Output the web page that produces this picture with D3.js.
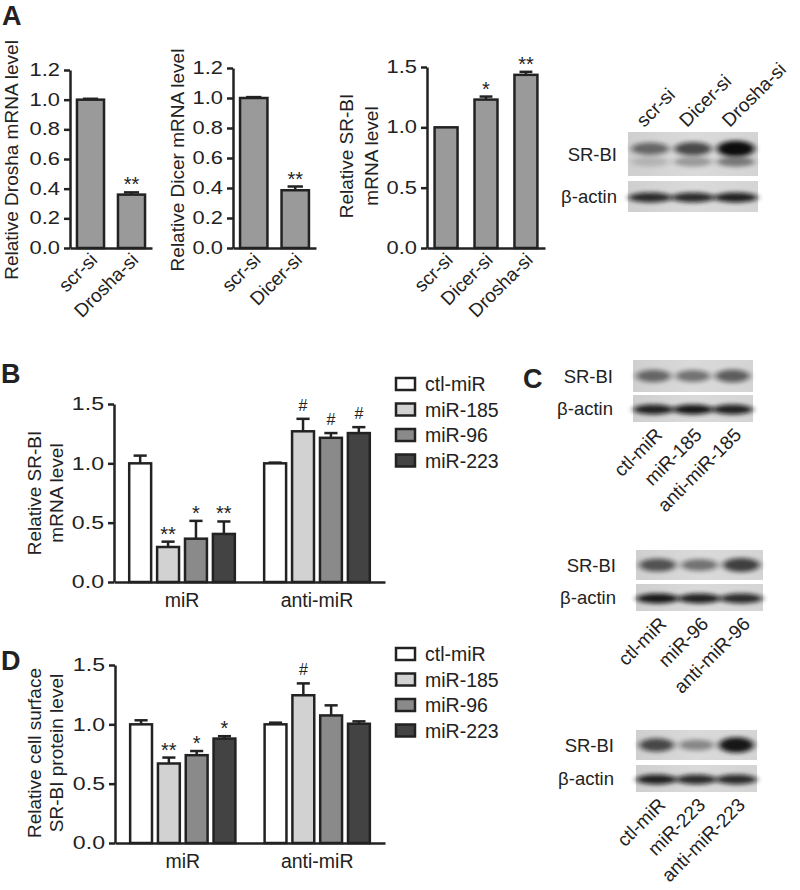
<!DOCTYPE html>
<html><head><meta charset="utf-8">
<script src="https://cdn.jsdelivr.net/npm/d3@7"></script>
<style>
body{margin:0;background:#fff;}
svg text{font-family:"Liberation Sans",Arial,sans-serif;fill:#222;}
</style></head><body>
<svg id="fig" width="800" height="890"></svg>
<script>
// ---------- DATA ----------
const a1Cats = ["scr-si", "Drosha-si"];
const a1Vals = [1.0, 0.36];
const a1Errs = [0.006, 0.015];
const a1Sig = ["", "**"];
const a1Ticks = [0, 0.2, 0.4, 0.6, 0.8, 1.0, 1.2];

const a2Cats = ["scr-si", "Dicer-si"];
const a2Vals = [1.0, 0.385];
const a2Errs = [0.006, 0.025];
const a2Sig = ["", "**"];
const a2Ticks = [0, 0.2, 0.4, 0.6, 0.8, 1.0, 1.2];

const a3Cats = ["scr-si", "Dicer-si", "Drosha-si"];
const a3Vals = [1.0, 1.23, 1.435];
const a3Errs = [0.0, 0.025, 0.025];
const a3Sig = ["", "*", "**"];
const a3Ticks = [0, 0.5, 1.0, 1.5];

const groups = ["miR", "anti-miR"];
const seriesNames = ["ctl-miR", "miR-185", "miR-96", "miR-223"];
const seriesColors = ["#ffffff", "#d2d2d2", "#8a8a8a", "#434343"];
const bdTicks = [0, 0.5, 1.0, 1.5];

const bMiR = [1.0, 0.295, 0.365, 0.405];
const bMiRErr = [0.065, 0.045, 0.15, 0.105];
const bMiRSig = ["", "**", "*", "**"];
const bAnti = [1.0, 1.27, 1.215, 1.255];
const bAntiErr = [0.006, 0.105, 0.04, 0.05];
const bAntiSig = ["", "#", "#", "#"];

const dMiR = [1.0, 0.67, 0.74, 0.88];
const dMiRErr = [0.034, 0.05, 0.035, 0.02];
const dMiRSig = ["", "**", "*", "*"];
const dAnti = [1.0, 1.245, 1.075, 1.005];
const dAntiErr = [0.014, 0.1, 0.085, 0.02];
const dAntiSig = ["", "#", "", ""];

// blot band intensities (0..1)
const blotALanes = ["scr-si", "Dicer-si", "Drosha-si"];
const blotASRBI = [0.55, 0.7, 1.0];
const blotASRBIlow = [0.25, 0.5, 0.75];
const blotAActin = [0.85, 0.85, 0.9];

const blotC1Lanes = ["ctl-miR", "miR-185", "anti-miR-185"];
const blotC1SRBI = [0.55, 0.5, 0.6];
const blotC1Actin = [0.9, 0.95, 0.9];
const blotC2Lanes = ["ctl-miR", "miR-96", "anti-miR-96"];
const blotC2SRBI = [0.65, 0.5, 0.75];
const blotC2Actin = [0.95, 0.9, 0.85];
const blotC3Lanes = ["ctl-miR", "miR-223", "anti-miR-223"];
const blotC3SRBI = [0.7, 0.4, 0.95];
const blotC3Actin = [0.9, 0.85, 0.85];

// ---------- DRAW ----------
const svg = d3.select("#fig");
const INK = "#222";
const defs = svg.append("defs");
defs.append("filter").attr("id", "blur").attr("x", "-50%").attr("y", "-100%").attr("width", "200%").attr("height", "300%")
  .append("feGaussianBlur").attr("stdDeviation", "3 2.2");
const grad = defs.append("linearGradient").attr("id", "film").attr("x1", 0).attr("x2", 1);
grad.append("stop").attr("offset", "0").attr("stop-color", "#cfcfcf");
grad.append("stop").attr("offset", "0.5").attr("stop-color", "#dadada");
grad.append("stop").attr("offset", "1").attr("stop-color", "#d4d4d4");

function panelLetter(t, x, y) {
  svg.append("text").attr("x", x).attr("y", y).text(t)
    .style("font-size", "27px").style("font-weight", "bold");
}

function styleAxis(g, fs, sx) {
  g.select(".domain").attr("stroke", INK).attr("stroke-width", 2.5);
  g.selectAll(".tick line").attr("stroke", INK).attr("stroke-width", 2.5);
  g.selectAll(".tick text").style("font-size", fs + "px").attr("fill", INK)
    .style("font-family", '"Liberation Sans",Arial,sans-serif')
    .each(function () {
      const t = d3.select(this), x = +t.attr("x");
      t.attr("x", 0).attr("transform", `translate(${x},0) scale(${sx},1)`);
    });
}

function yTitle(lines, x, y, lh) {
  const t = svg.append("text").attr("transform", `translate(${x},${y}) rotate(-90)`)
    .attr("text-anchor", "middle").style("font-size", "19px");
  lines.forEach((l, i) => t.append("tspan").attr("x", 0).attr("dy", i === 0 ? -(lines.length - 1) * lh : lh).text(l));
}

function simpleBar(c) {
  const y = d3.scaleLinear().domain([0, c.yMax]).range([c.yBot, c.yTop]);
  const x = d3.scaleBand().domain(c.cats).range([c.x0, c.x1]).paddingInner(c.pi).paddingOuter(c.po);
  const g = svg.append("g");
  const bw = x.bandwidth();
  c.cats.forEach((k, i) => {
    const cx = x(k) + bw / 2;
    if (c.errs[i] > 0) {
      const ye = y(c.vals[i] + c.errs[i]);
      g.append("line").attr("x1", cx).attr("x2", cx).attr("y1", y(c.vals[i])).attr("y2", ye).attr("stroke", INK).attr("stroke-width", 2.5);
      g.append("line").attr("x1", cx - bw * 0.28).attr("x2", cx + bw * 0.28).attr("y1", ye).attr("y2", ye).attr("stroke", INK).attr("stroke-width", 2.5);
    }
  });
  g.selectAll("rect.bar").data(c.cats).join("rect").attr("class", "bar")
    .attr("x", d => x(d)).attr("width", bw)
    .attr("y", (d, i) => y(c.vals[i])).attr("height", (d, i) => c.yBot - y(c.vals[i]))
    .attr("fill", "#9a9a9a").attr("stroke", INK).attr("stroke-width", 2.5);
  c.cats.forEach((k, i) => {
    if (!c.sig[i]) return;
    g.append("text").attr("x", x(k) + bw / 2).attr("y", y(c.vals[i] + c.errs[i]) - 1)
      .attr("text-anchor", "middle").style("font-size", "20px").text(c.sig[i]);
  });
  const ya = g.append("g").attr("transform", `translate(${c.x0},0)`)
    .call(d3.axisLeft(y).tickValues(c.ticks).tickFormat(d3.format(".1f")).tickSize(6).tickSizeOuter(0).tickPadding(4));
  styleAxis(ya, 17.5, 1.25);
  const xa = g.append("g").attr("transform", `translate(0,${c.yBot})`)
    .call(d3.axisBottom(x).tickSize(0).tickSizeOuter(0).tickFormat(""));
  xa.selectAll(".tick").remove();
  styleAxis(xa, 16, 1);
  c.cats.forEach(k => {
    g.append("text").attr("transform", `translate(${x(k) + bw / 2 + 8},${c.yBot + 13}) rotate(-45)`)
      .attr("text-anchor", "end").style("font-size", "19px").text(k);
  });
}

function groupedBar(c) {
  const y = d3.scaleLinear().domain([0, 1.5]).range([c.yBot, c.yTop]);
  const x = d3.scaleBand().domain(groups).range([c.x0, c.x1]).paddingInner(0.176).paddingOuter(0.092);
  const xs = d3.scaleBand().domain(seriesNames).range([0, x.bandwidth()]).paddingInner(0.214).paddingOuter(0.1);
  const bw = xs.bandwidth();
  const g = svg.append("g");
  groups.forEach((gr, gi) => {
    const vals = gi === 0 ? c.v0 : c.v1, errs = gi === 0 ? c.e0 : c.e1, sig = gi === 0 ? c.s0 : c.s1;
    seriesNames.forEach((s, si) => {
      const bx = x(gr) + xs(s), cx = bx + bw / 2;
      const ye = y(vals[si] + errs[si]);
      g.append("line").attr("x1", cx).attr("x2", cx).attr("y1", y(vals[si])).attr("y2", ye).attr("stroke", INK).attr("stroke-width", 2.5);
      g.append("line").attr("x1", cx - bw * 0.3).attr("x2", cx + bw * 0.3).attr("y1", ye).attr("y2", ye).attr("stroke", INK).attr("stroke-width", 2.5);
      g.append("rect").attr("x", bx).attr("width", bw).attr("y", y(vals[si])).attr("height", c.yBot - y(vals[si]))
        .attr("fill", seriesColors[si]).attr("stroke", INK).attr("stroke-width", 2.5);
      if (sig[si]) {
        const isHash = sig[si] === "#";
        g.append("text").attr("x", cx).attr("y", ye - (isHash ? 8 : 1))
          .attr("text-anchor", "middle").style("font-size", isHash ? "16px" : "20px").text(sig[si]);
      }
    });
    g.append("text").attr("x", x(gr) + x.bandwidth() / 2).attr("y", c.yBot + 25)
      .attr("text-anchor", "middle").style("font-size", "19.5px").text(gr);
  });
  const ya = g.append("g").attr("transform", `translate(${c.x0},0)`)
    .call(d3.axisLeft(y).tickValues(bdTicks).tickFormat(d3.format(".1f")).tickSize(6).tickSizeOuter(0).tickPadding(4));
  styleAxis(ya, 18.5, 1.25);
  const xa = g.append("g").attr("transform", `translate(0,${c.yBot})`)
    .call(d3.axisBottom(x).tickSize(0).tickSizeOuter(0).tickFormat(""));
  xa.selectAll(".tick").remove();
  styleAxis(xa, 16, 1);
  seriesNames.forEach((s, i) => {
    const ly = c.legY + i * 25.5;
    svg.append("rect").attr("x", 396).attr("y", ly).attr("width", 19).attr("height", 12)
      .attr("fill", seriesColors[i]).attr("stroke", INK).attr("stroke-width", 2.5);
    svg.append("text").attr("x", 425).attr("y", ly + 13).style("font-size", "19.5px").text(s);
  });
}

function blot(c) {
  const g = svg.append("g");
  const lx = d3.scaleBand().domain(c.lanes).range([c.x0, c.x1]).paddingInner(0.12).paddingOuter(0.08);
  const strips = [[c.s0, c.s1, c.srbi, "SR-BI"], [c.a0, c.a1, c.actin, "\u03b2-actin"]];
  strips.forEach(([t, b, vals, lab], si) => {
    g.append("rect").attr("x", c.x0).attr("y", t).attr("width", c.x1 - c.x0).attr("height", b - t).attr("fill", "url(#film)");
    const cy = si === 0 ? t + (b - t) * c.bandPos : (t + b) / 2 + 1;
    c.lanes.forEach((ln, i) => {
      g.append("ellipse").attr("cx", lx(ln) + lx.bandwidth() / 2).attr("cy", cy)
        .attr("rx", lx.bandwidth() / 2 + (si === 1 ? 3 : 0)).attr("ry", si === 0 ? 4 + vals[i] * 4 : 5)
        .attr("fill", "#111").attr("opacity", vals[i]).attr("filter", "url(#blur)");
      if (si === 0 && c.low) {
        g.append("ellipse").attr("cx", lx(ln) + lx.bandwidth() / 2).attr("cy", cy + 13)
          .attr("rx", lx.bandwidth() / 2).attr("ry", 5)
          .attr("fill", "#222").attr("opacity", c.low[i] * 0.7).attr("filter", "url(#blur)");
      }
    });
    g.append("text").attr("x", c.labX).attr("y", (t + b) / 2 + 6.5).attr("text-anchor", "end")
      .style("font-size", "18.5px").text(lab);
  });
  c.lanes.forEach(ln => {
    const cx = lx(ln) + lx.bandwidth() / 2;
    if (c.labAbove) {
      g.append("text").attr("transform", `translate(${cx - 6},${c.s0 - 4}) rotate(-45)`)
        .style("font-size", "19px").text(ln);
    } else {
      g.append("text").attr("transform", `translate(${cx + 10},${c.a1 + 14}) rotate(-45)`)
        .attr("text-anchor", "end").style("font-size", "19px").text(ln);
    }
  });
}

// Panel A
panelLetter("A", 2, 25);
simpleBar({cats: a1Cats, vals: a1Vals, errs: a1Errs, sig: a1Sig, ticks: a1Ticks, yMax: 1.2,
  x0: 70, x1: 152, yTop: 70, yBot: 248, pi: 0.34, po: 0.17});
yTitle(["Relative Drosha mRNA level"], 18, 160, 0);
simpleBar({cats: a2Cats, vals: a2Vals, errs: a2Errs, sig: a2Sig, ticks: a2Ticks, yMax: 1.2,
  x0: 233, x1: 316, yTop: 68, yBot: 248, pi: 0.34, po: 0.17});
yTitle(["Relative Dicer mRNA level"], 184, 160, 0);
simpleBar({cats: a3Cats, vals: a3Vals, errs: a3Errs, sig: a3Sig, ticks: a3Ticks, yMax: 1.5,
  x0: 427, x1: 545, yTop: 67, yBot: 248, pi: 0.425, po: 0.19});
yTitle(["Relative SR-BI", "mRNA level"], 378, 156, 25);
blot({lanes: blotALanes, srbi: blotASRBI, low: blotASRBIlow, actin: blotAActin,
  x0: 628, x1: 758, s0: 132, s1: 176, a0: 181, a1: 212, bandPos: 0.38, labX: 617, labAbove: true});

// Panel B
panelLetter("B", 1, 383);
groupedBar({v0: bMiR, e0: bMiRErr, s0: bMiRSig, v1: bAnti, e1: bAntiErr, s1: bAntiSig,
  x0: 114, x1: 385, yTop: 404, yBot: 582, legY: 378});
yTitle(["Relative SR-BI", "mRNA level"], 63, 493, 22);

// Panel C
panelLetter("C", 523, 388);
blot({lanes: blotC1Lanes, srbi: blotC1SRBI, actin: blotC1Actin,
  x0: 633, x1: 753, s0: 360, s1: 392, a0: 395, a1: 422, bandPos: 0.5, labX: 613});
blot({lanes: blotC2Lanes, srbi: blotC2SRBI, actin: blotC2Actin,
  x0: 636, x1: 763, s0: 550, s1: 580, a0: 584, a1: 611, bandPos: 0.5, labX: 616});
blot({lanes: blotC3Lanes, srbi: blotC3SRBI, actin: blotC3Actin,
  x0: 636, x1: 757, s0: 730, s1: 760, a0: 765, a1: 792, bandPos: 0.5, labX: 614});

// Panel D
panelLetter("D", 1, 670);
groupedBar({v0: dMiR, e0: dMiRErr, s0: dMiRSig, v1: dAnti, e1: dAntiErr, s1: dAntiSig,
  x0: 115, x1: 385, yTop: 665, yBot: 843, legY: 648});
yTitle(["Relative cell surface", "SR-BI protein level"], 63, 753, 22);
</script>
</body></html>
